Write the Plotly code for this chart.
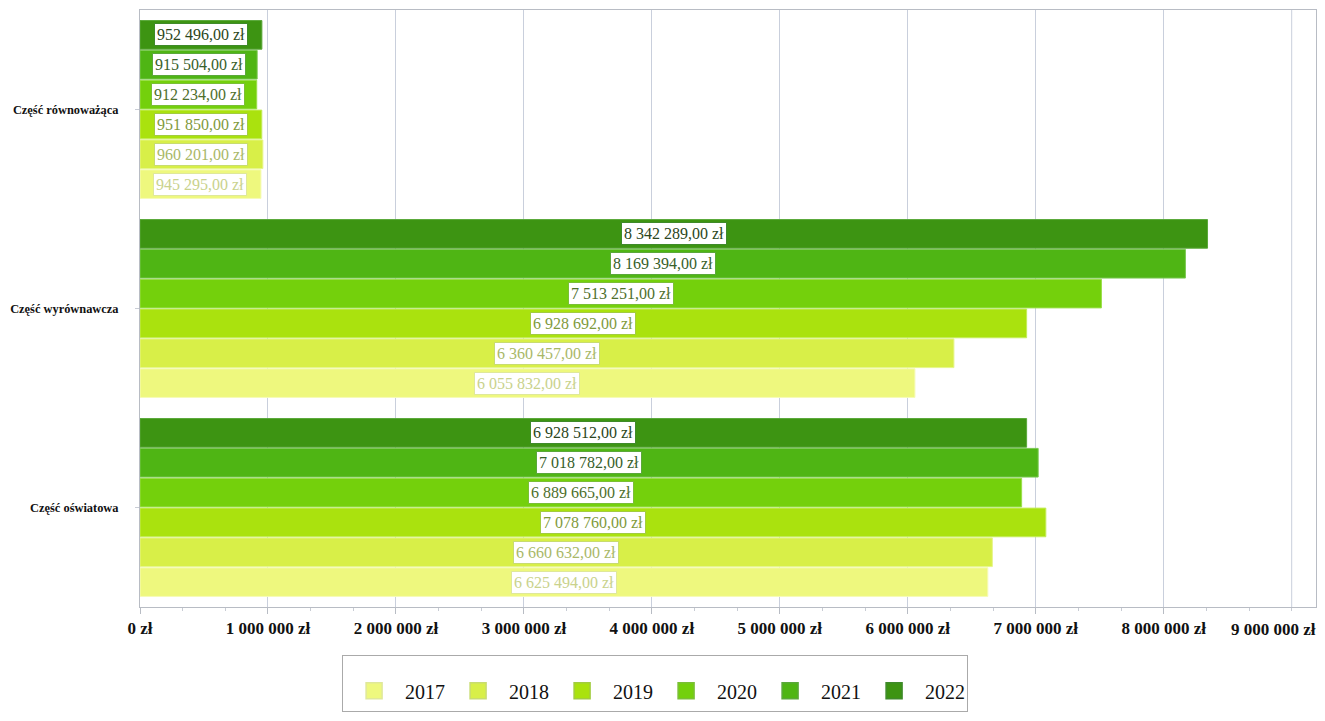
import plotly.graph_objects as go

categories = ["Część oświatowa", "Część wyrównawcza", "Część równoważąca"]
years = ["2017", "2018", "2019", "2020", "2021", "2022"]
values_2017 = [6625494, 6055832, 945295]
values_2018 = [6660632, 6360457, 960201]
values_2019 = [7078760, 6928692, 951850]
values_2020 = [6889665, 7513251, 912234]
values_2021 = [7018782, 8169394, 915504]
values_2022 = [6928512, 8342289, 952496]
series = [values_2017, values_2018, values_2019, values_2020, values_2021, values_2022]

tick_vals = [0, 1e6, 2e6, 3e6, 4e6, 5e6, 6e6, 7e6, 8e6, 9e6]
tick_text = ["0 zł", "1 000 000 zł", "2 000 000 zł", "3 000 000 zł", "4 000 000 zł",
             "5 000 000 zł", "6 000 000 zł", "7 000 000 zł", "8 000 000 zł", "9 000 000 zł"]

colors = ["#eef87e", "#d8ef48", "#aae20e", "#74d00c", "#4fb514", "#3d9412"]
edge_colors = ["#f6fbb8", "#e6f58a", "#c4ec5a", "#9ade4a", "#78c850", "#5aa83a"]
text_colors = ["#c9d28c", "#a9b868", "#7f9a3c", "#4e6f2c", "#37602a", "#2b4620"]
box_colors = ["#dfe89a", "#c8dc70", "#a2cc40", "#7abf36", "#5aa83a", "#3f8a2a"]

BARGAP = 0.1
GROUPGAP = 0.04
FONT = "Liberation Serif, Times New Roman, serif"
TICKFONT = dict(family=FONT, size=17, color="#111111", weight="bold")

def fmt(v):
    s = f"{v:,.2f}".replace(",", " ").replace(".", ",")
    return s + " zł"

fig = go.Figure()
for i, (yr, vals) in enumerate(zip(years, series)):
    fig.add_trace(go.Bar(
        y=categories, x=vals, orientation="h", name=yr,
        marker=dict(color=colors[i], line=dict(color=edge_colors[i], width=1)),
        showlegend=False, hoverinfo="x+name",
    ))
    fig.add_trace(go.Scatter(
        x=[None], y=[None], mode="markers", name=yr,
        marker=dict(symbol="square", size=22, color=colors[i],
                    line=dict(color=box_colors[i], width=1.5)),
        showlegend=True,
    ))

n = len(years)
slot = (1 - BARGAP) / n
annotations = []
for i, vals in enumerate(series):
    off = -(1 - BARGAP) / 2 + slot * (i + 0.5)
    for ci, v in enumerate(vals):
        annotations.append(dict(
            x=v / 2, y=ci + off, xref="x", yref="y", text=fmt(v), showarrow=False,
            font=dict(family=FONT, size=16, color=text_colors[i]),
            bgcolor="white", bordercolor=box_colors[i], borderwidth=1, borderpad=2,
        ))

# last tick label is pulled left so it fits inside the page, as in the reference
annotations.append(dict(
    x=tick_vals[-1], y=0, xref="x", yref="paper", text=tick_text[-1], showarrow=False,
    xanchor="center", yanchor="top", xshift=-18, yshift=-11, font=TICKFONT,
))

fig.update_layout(
    width=1317, height=713,
    barmode="group", bargap=BARGAP, bargroupgap=GROUPGAP,
    plot_bgcolor="white", paper_bgcolor="white",
    margin=dict(l=132, r=9, t=2, b=114, autoexpand=False),
    font=dict(family=FONT, color="#111111"),
    annotations=annotations,
    legend=dict(
        orientation="h", x=0.438, xanchor="center", y=-0.08, yanchor="top",
        font=dict(family=FONT, size=20, color="#111111"),
        bordercolor="#aaaaaa", borderwidth=1, bgcolor="white",
        entrywidth=37, itemwidth=52,
        title=dict(text="\u00a0", side="top", font=dict(size=12)),
    ),
)
fig.update_xaxes(
    range=[0, 9.19e6], tickvals=tick_vals[:-1], ticktext=tick_text[:-1],
    tickfont=TICKFONT,
    showgrid=True, gridcolor="#c9cfdc", gridwidth=1,
    showline=True, linecolor="#b8bcc4", linewidth=1, mirror=True,
    ticks="outside", ticklen=6, tickcolor="#b8bcc4",
    minor=dict(tickvals=[i * 1e6 / 3 for i in range(28)], ticks="outside", ticklen=3,
               tickcolor="#c8ccd4", showgrid=False),
    zeroline=False, automargin=False,
)
fig.update_yaxes(
    tickfont=dict(family=FONT, size=12.4, color="#111111", weight="bold"),
    showline=True, linecolor="#b8bcc4", linewidth=1, mirror=True,
    ticks="outside", ticklen=4, tickcolor="#c8ccd4", ticklabelstandoff=14,
    showgrid=False, automargin=False,
)
# gridline + tick for the last major value (its label is the annotation above)
fig.add_vline(x=tick_vals[-1], line=dict(color="#c9cfdc", width=1), layer="below")

fig.write_html("out.html")
